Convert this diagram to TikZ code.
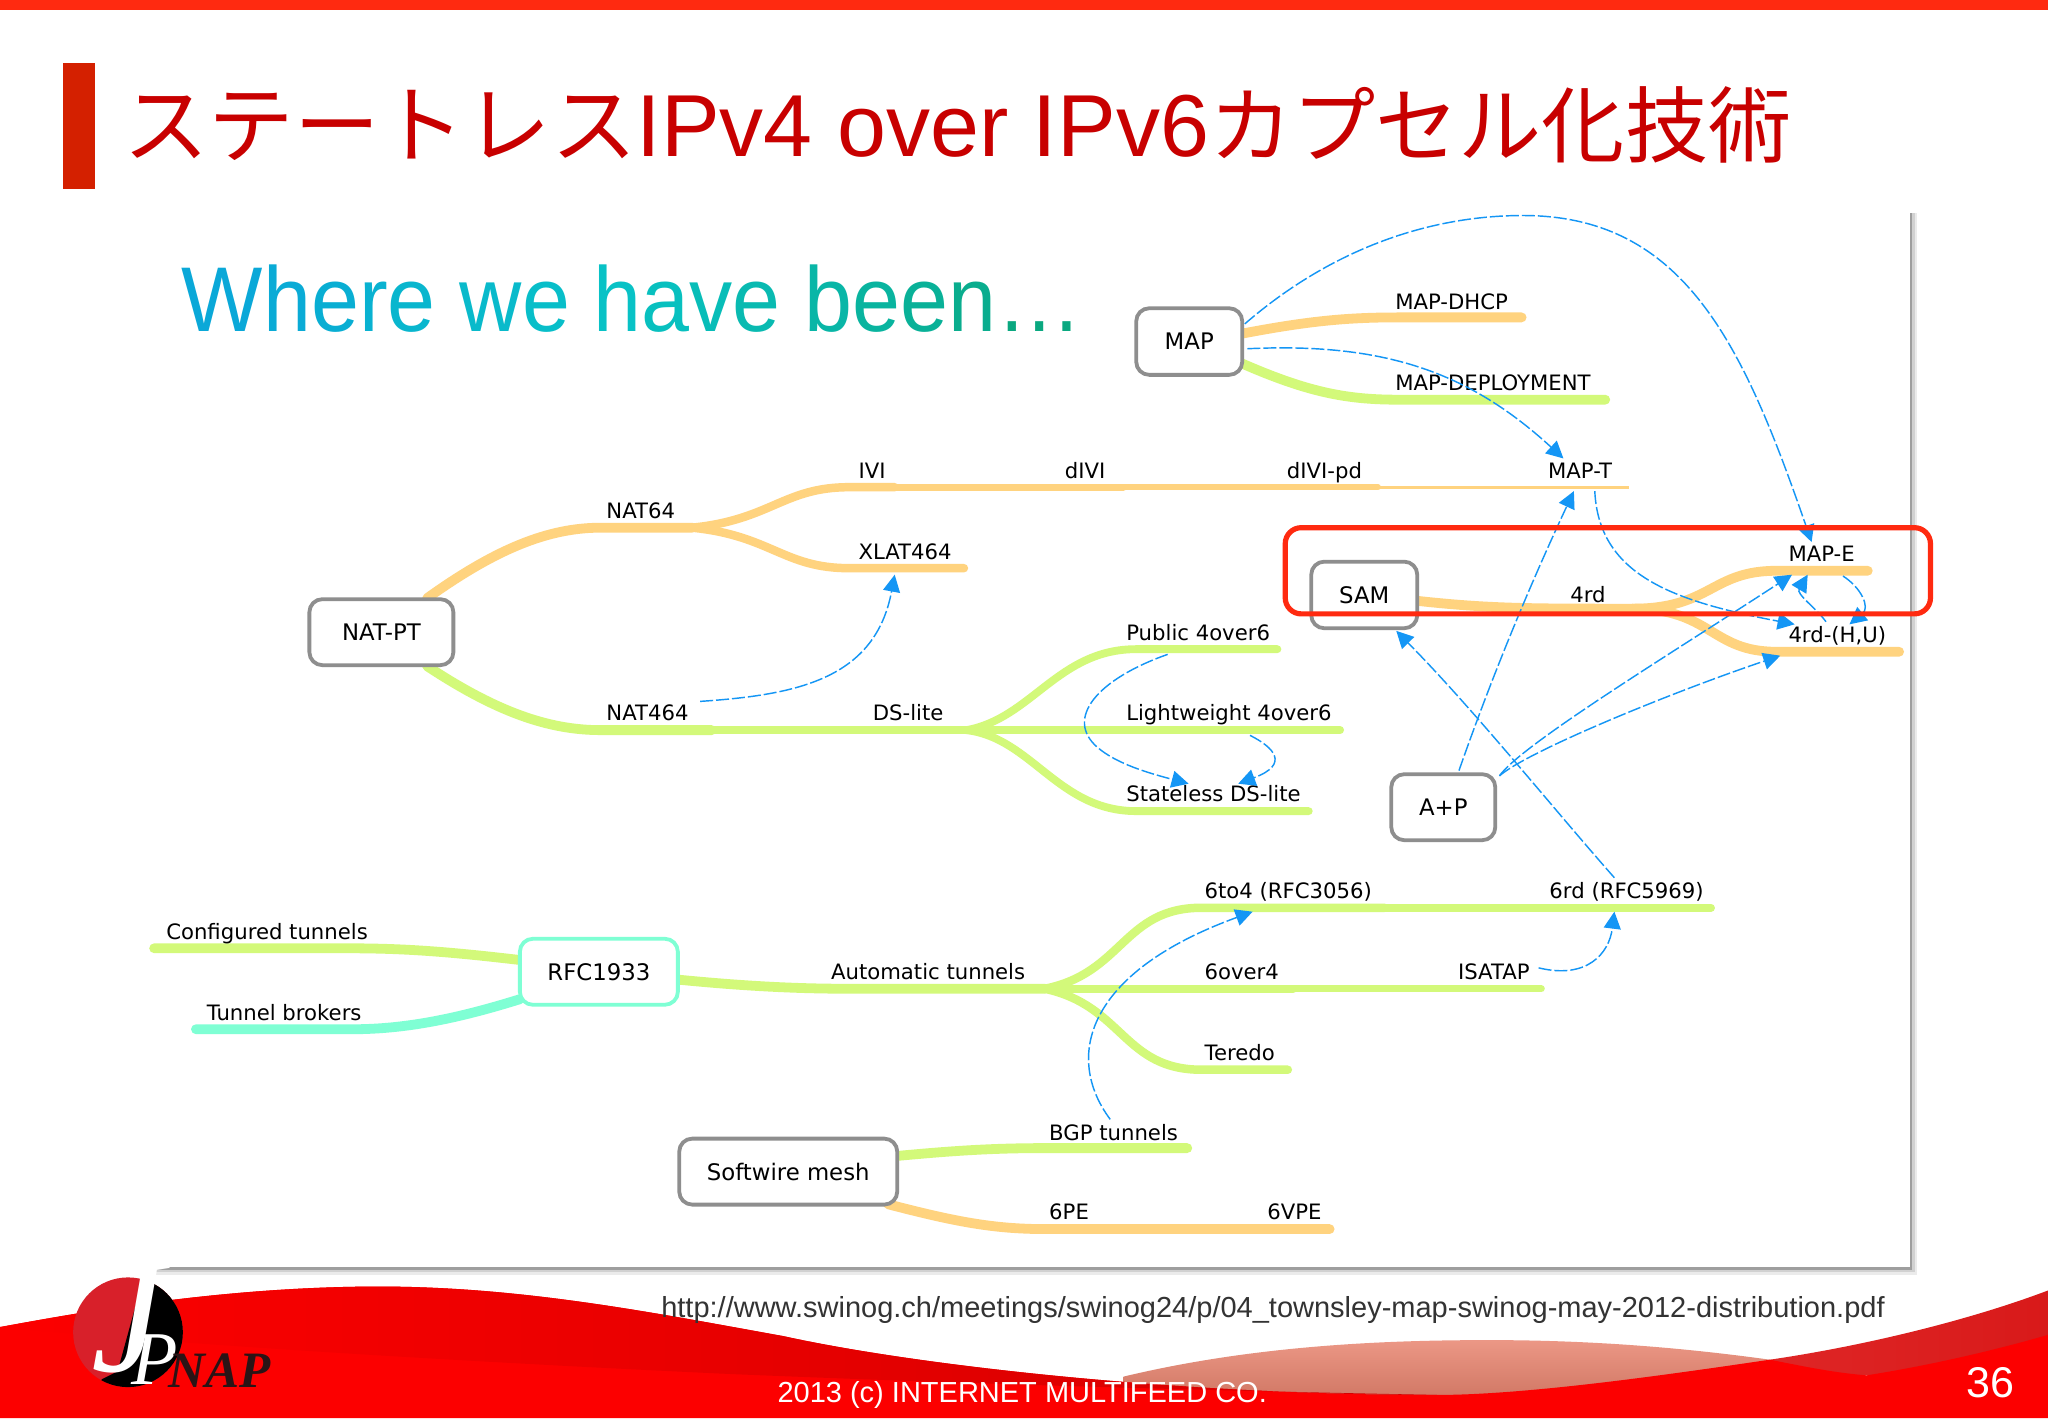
\documentclass[tikz,border=0pt]{standalone}
\usepackage{fontspec}
\usetikzlibrary{arrows.meta}
\setmainfont{Liberation Sans}
\newfontfamily\cjkf{Noto Sans CJK JP}
\newfontfamily\lblf{DejaVu Sans}
\newfontfamily\narrowf[FakeStretch=0.937]{Liberation Sans}
\newfontfamily\logof{Liberation Serif}
\definecolor{topred}{HTML}{FF2A10}
\definecolor{markred}{HTML}{D42000}
\definecolor{titlered}{HTML}{C80000}
\definecolor{orng}{HTML}{FFD37F}
\definecolor{grn}{HTML}{D3F97A}
\definecolor{cyn}{HTML}{7FFFD4}
\definecolor{boxgray}{HTML}{8E8E8E}
\definecolor{arrowblue}{HTML}{1496F5}
\definecolor{footred}{HTML}{FC0000}
\definecolor{footdark}{HTML}{D40000}
\definecolor{salmon}{HTML}{E88570}
\definecolor{gA}{HTML}{0AA8D8}
\definecolor{gB}{HTML}{08C2C6}
\definecolor{gC}{HTML}{0AA880}
\definecolor{logored}{HTML}{D8202A}
\definecolor{logodark}{HTML}{2A1416}
\tikzset{
  x=0.653061pt,y=-0.653061pt,
  box/.style={draw=boxgray,line width=1.9pt,rounded corners=6.5pt,fill=white,inner sep=0pt,font=\lblf\fontsize{11.4}{14}\selectfont},
  lbl/.style={anchor=base west,inner sep=0pt,font=\lblf\fontsize{10.6}{13}\selectfont,text=black},
  br/.style={line width=#1*0.653pt,line cap=round},
  br/.default=7,
  dep/.style={draw=arrowblue,line width=0.72pt,dash pattern=on 6.5pt off 1.5pt,-{Triangle[length=8.5pt,width=8.5pt,fill=arrowblue]}},
  foot/.style={anchor=base west,inner sep=0pt,text=white}
}
\newcommand{\gl}[2]{\textcolor{#1}{#2}}
\begin{document}
\begin{tikzpicture}
\useasboundingbox (0,0) rectangle (1568,1085.7);
\fill[white] (0,0) rectangle (1568,1085.7);
% top and title
\fill[topred] (0,0) rectangle (1568,8);
\fill[markred] (48,48) rectangle (73,145);
\node[anchor=base west,inner sep=0pt,text=titlered] (title) at (94,120) {\fontsize{44}{50}\selectfont{\fontsize{42.8}{50}\selectfont\cjkf ステートレス}IPv4 over IPv6{\fontsize{41.6}{50}\selectfont\cjkf カプセル化技術}};
% panel
\fill[black!8] (110,163) rectangle (1468,976);
\fill[black!18] (110,163) rectangle (1466,974);
\fill[black!38] (110,163) rectangle (1464,972);
\fill[white] (107,160) rectangle (1462,970);
% subtitle
\node[anchor=base west,inner sep=0pt] (where) at (139,254) {\fontsize{46}{50}\selectfont\narrowf
\gl{gA}{W}\gl{gA!90!gB}{h}\gl{gA!75!gB}{e}\gl{gA!60!gB}{r}\gl{gA!45!gB}{e} \gl{gA!30!gB}{w}\gl{gA!15!gB}{e} \gl{gB}{h}\gl{gB!90!gC}{a}\gl{gB!80!gC}{v}\gl{gB!70!gC}{e} \gl{gB!55!gC}{b}\gl{gB!45!gC}{e}\gl{gB!35!gC}{e}\gl{gB!20!gC}{n}\gl{gC}{…}};
% footer
\shade[top color=salmon!85!white,bottom color=salmon!90!black] (860,1054) .. controls (960,1030) and (1060,1026) .. (1140,1026) .. controls (1220,1026) and (1290,1032) .. (1355,1041) -- (1355,1070) -- (860,1070) -- cycle;
\shade[left color=black!15!red!85!white,right color=footdark!90!white] (1355,1041) .. controls (1430,1030) and (1510,1010) .. (1568,988) -- (1568,1040) -- (1355,1060) -- cycle;
\fill[footred] (0,1016) .. controls (60,1005) and (170,985) .. (290,985) .. controls (400,985) and (500,1005) .. (600,1023) .. controls (700,1045) and (900,1068) .. (1100,1068) .. controls (1170,1068) and (1280,1052) .. (1355,1041) .. controls (1385,1047) and (1405,1051) .. (1429,1053) .. controls (1480,1045) and (1530,1033) .. (1568,1022) -- (1568,1085.7) -- (0,1085.7) -- cycle;
\shade[left color=footred,middle color=footred!75!footdark,right color=footdark] (0,1016) .. controls (100,1026) and (300,1040) .. (560,1052) .. controls (800,1062) and (1000,1066) .. (1100,1068) .. controls (900,1068) and (700,1045) .. (600,1023) .. controls (500,1005) and (400,985) .. (290,985) .. controls (170,985) and (60,1005) .. (0,1016) -- cycle;
% logo
\begin{scope}
\clip (98,1020) circle (42);
\fill[logored] (50,970) rectangle (150,1070);
\fill[black] (112,970) -- (150,970) -- (150,1070) -- (70,1070) -- (78,1056) -- (90,1050) -- cycle;
\end{scope}
\node[anchor=base west,inner sep=0pt,text=white] (logoJ) at (70,1050) {\fontsize{82}{82}\selectfont\logof\itshape J};
\node[anchor=base west,inner sep=0pt,text=white] (logoP) at (100,1060) {\fontsize{38}{38}\selectfont\logof\itshape P};
\node[anchor=base west,inner sep=0pt,text=logodark] (logoN) at (129,1062) {\fontsize{25.5}{26}\selectfont\logof\itshape\bfseries NAP};
% footer text
\node[anchor=base west,inner sep=0pt,text=black!80] (url) at (506,1009) {\fontsize{14.5}{16}\selectfont http://www.swinog.ch/meetings/swinog24/p/04\_townsley-map-swinog-may-2012-distribution.pdf};
\node[foot] (copy) at (595,1074) {\fontsize{14.5}{16}\selectfont 2013 (c) INTERNET MULTIFEED CO.};
\node[foot] (pg) at (1505,1070) {\fontsize{21.5}{25}\selectfont 36};
% coordinates of branch points
\coordinate (bMapOut1) at (948,256);
\coordinate (bMapOut2) at (948,277);
\coordinate (eDhcp) at (1165,243);
\coordinate (eDepl) at (1229,306);
\coordinate (nOut1) at (327,458);
\coordinate (nOut2) at (327,510);
\coordinate (j64) at (530,404);
\coordinate (jIvi) at (685,373);
\coordinate (jDivi) at (860,373);
\coordinate (jPd) at (1055,373);
\coordinate (eMapT) at (1247,373);
\coordinate (eXlat) at (738,435);
\coordinate (jDs) at (740,559);
\coordinate (j464) at (545,559);
\coordinate (ePub) at (978,497);
\coordinate (eLw) at (1026,559);
\coordinate (eSt) at (1002,621);
\coordinate (sOut) at (1085,460);
\coordinate (j4rd) at (1250,466);
\coordinate (eMapE) at (1430,437);
\coordinate (eHU) at (1454,499);
\coordinate (rOut1) at (398,735);
\coordinate (rOut2) at (398,765);
\coordinate (rOut3) at (519,750);
\coordinate (eConf) at (118,726);
\coordinate (eTb) at (150,788);
\coordinate (jAuto) at (800,757);
\coordinate (j6to4) at (1060,695);
\coordinate (e6rd) at (1310,695);
\coordinate (j6o4) at (990,757);
\coordinate (eIsa) at (1180,757);
\coordinate (eTer) at (986,819);
\coordinate (swOut1) at (687,885);
\coordinate (swOut2) at (680,922);
\coordinate (eBgp) at (909,879);
\coordinate (e6vpe) at (1018,941);
% branches
\draw[br=7.5,orng] (bMapOut1) .. controls (1000,246) and (1030,243) .. (1070,243) -- (eDhcp);
\draw[br=7.5,grn] (bMapOut2) .. controls (1000,300) and (1030,306) .. (1070,306) -- (eDepl);
\draw[br=7.5,orng] (nOut1) .. controls (380,420) and (420,404) .. (460,404) -- (j64);
\draw[br=6.5,orng] (j64) .. controls (590,398) and (600,373) .. (650,373) -- (jIvi);
\draw[br=5.5,orng] (jIvi) -- (jDivi);
\draw[br=4.5,orng] (jDivi) -- (jPd);
\draw[br=2.4,orng,line cap=butt] (jPd) -- (eMapT);
\draw[br=6.5,orng] (j64) .. controls (590,410) and (600,435) .. (650,435) -- (eXlat);
\draw[br=7.5,grn] (nOut2) .. controls (380,545) and (420,559) .. (460,559) -- (j464);
\draw[br=6.5,grn] (j464) -- (jDs);
\draw[br=6,grn] (jDs) .. controls (790,550) and (810,497) .. (870,497) -- (ePub);
\draw[br=6,grn] (jDs) -- (eLw);
\draw[br=6,grn] (jDs) .. controls (790,565) and (810,621) .. (870,621) -- (eSt);
\draw[br=7.5,orng] (sOut) .. controls (1140,466) and (1170,466) .. (j4rd);
\draw[br=7.5,orng] (j4rd) .. controls (1310,466) and (1310,437) .. (1360,437) -- (eMapE);
\draw[br=7.5,orng] (j4rd) .. controls (1310,466) and (1310,499) .. (1360,499) -- (eHU);
\draw[br=7.5,grn] (rOut1) .. controls (330,727) and (300,726) .. (260,726) -- (eConf);
\draw[br=7.5,cyn] (rOut2) .. controls (350,780) and (310,788) .. (270,788) -- (eTb);
\draw[br=7.5,grn] (rOut3) .. controls (570,755) and (610,757) .. (650,757) -- (jAuto);
\draw[br=6.5,grn] (jAuto) .. controls (860,745) and (860,695) .. (920,695) -- (j6to4);
\draw[br=6,grn] (j6to4) -- (e6rd);
\draw[br=6.5,grn] (jAuto) -- (j6o4);
\draw[br=5.5,grn] (j6o4) -- (eIsa);
\draw[br=6.5,grn] (jAuto) .. controls (860,770) and (860,819) .. (920,819) -- (eTer);
\draw[br=7.5,grn] (swOut1) .. controls (730,881) and (760,879) .. (800,879) -- (eBgp);
\draw[br=7.5,orng] (swOut2) .. controls (730,935) and (760,941) .. (800,941) -- (e6vpe);
% boxes
\node[box,draw=boxgray,minimum width=53pt,minimum height=33.3pt] (MAP) at (910.5,261.5) {MAP};
\node[box,minimum width=72pt,minimum height=33pt] (NATPT) at (292,484) {NAT-PT};
\node[box,minimum width=53pt,minimum height=33.3pt] (SAM) at (1044.5,455.5) {SAM};
\node[box,minimum width=52pt,minimum height=33pt] (AP) at (1105,618) {A+P};
\node[box,draw=cyn,minimum width=79pt,minimum height=33pt] (RFC) at (458.5,744) {RFC1933};
\node[box,minimum width=109pt,minimum height=33pt] (SW) at (603.5,897) {Softwire mesh};
% labels
\node[lbl] (tDhcp) at (1068,237) {MAP-DHCP};
\node[lbl] (tDepl) at (1068,299) {MAP-DEPLOYMENT};
\node[lbl] (tIvi) at (657,366) {IVI};
\node[lbl] (tDivi) at (815,366) {dIVI};
\node[lbl] (tPd) at (985,366) {dIVI-pd};
\node[lbl] (tMapT) at (1185,366) {MAP-T};
\node[lbl] (t64) at (464,397) {NAT64};
\node[lbl] (tXlat) at (657,428) {XLAT464};
\node[lbl] (tMapE) at (1369,430) {MAP-E};
\node[lbl] (t4rd) at (1202,461) {4rd};
\node[lbl] (tHU) at (1369,492) {4rd-(H,U)};
\node[lbl] (tPub) at (862,490) {Public 4over6};
\node[lbl] (t464) at (464,552) {NAT464};
\node[lbl] (tDs) at (668,552) {DS-lite};
\node[lbl] (tLw) at (862,552) {Lightweight 4over6};
\node[lbl] (tSt) at (862,614) {Stateless DS-lite};
\node[lbl] (tConf) at (127,719) {Configured tunnels};
\node[lbl] (tTb) at (158,781) {Tunnel brokers};
\node[lbl] (t6to4) at (922,688) {6to4 (RFC3056)};
\node[lbl] (t6rd) at (1186,688) {6rd (RFC5969)};
\node[lbl] (tAuto) at (636,750) {Automatic tunnels};
\node[lbl] (t6o4) at (922,750) {6over4};
\node[lbl] (tIsa) at (1116,750) {ISATAP};
\node[lbl] (tTer) at (922,812) {Teredo};
\node[lbl] (tBgp) at (803,873) {BGP tunnels};
\node[lbl] (t6pe) at (803,934) {6PE};
\node[lbl] (t6vpe) at (970,934) {6VPE};
% dependency endpoints
\coordinate (a1s) at (953,248);
\coordinate (a1p) at (1166,165);
\coordinate (a1e) at (1387,415);
\coordinate (a2s) at (955,267);
\coordinate (a2e) at (1197,351);
\coordinate (a3s) at (1221,376);
\coordinate (a3e) at (1374,478);
\coordinate (a4s) at (1117,590);
\coordinate (a4e) at (1205,376);
\coordinate (a5s) at (1148,594);
\coordinate (a5e) at (1372,440);
\coordinate (a6e) at (1363,502);
\coordinate (a7s) at (1398,476);
\coordinate (a7e) at (1384,440);
\coordinate (a8s) at (1411,441);
\coordinate (a8e) at (1416,478);
\coordinate (a9s) at (1236,672);
\coordinate (a9e) at (1069,483);
\coordinate (a10s) at (894,501);
\coordinate (a10e) at (910,600);
\coordinate (a11s) at (957,563);
\coordinate (a11e) at (948,600);
\coordinate (a12s) at (536,537);
\coordinate (a12e) at (685,440);
\coordinate (a13s) at (1178,741);
\coordinate (a13e) at (1236,698);
\coordinate (a14s) at (850,857);
\coordinate (a14e) at (959,698);
% dependency arrows
\draw[dep] (a1s) .. controls (1020,190) and (1095,165) .. (a1p) .. controls (1290,165) and (1335,265) .. (a1e);
\draw[dep] (a2s) .. controls (1060,262) and (1125,285) .. (a2e);
\draw[dep] (a3s) .. controls (1224,440) and (1280,460) .. (a3e);
\draw[dep] (a4s) .. controls (1145,510) and (1175,440) .. (a4e);
\draw[dep] (a5s) .. controls (1165,570) and (1280,500) .. (a5e);
\draw[dep] (a5s) .. controls (1170,575) and (1280,530) .. (a6e);
\draw[dep] (a7s) .. controls (1390,465) and (1375,455) .. (a7e);
\draw[dep] (a8s) .. controls (1425,450) and (1432,465) .. (a8e);
\draw[dep] (a9s) .. controls (1190,620) and (1130,545) .. (a9e);
\draw[dep] (a10s) .. controls (840,520) and (815,550) .. (840,572) .. controls (855,585) and (880,592) .. (a10e);
\draw[dep] (a11s) .. controls (975,572) and (988,585) .. (a11e);
\draw[dep] (a12s) .. controls (610,532) and (670,520) .. (a12e);
\draw[dep] (a13s) .. controls (1215,750) and (1232,730) .. (a13e);
\draw[dep] (a14s) .. controls (815,810) and (830,745) .. (a14e);
% highlight
\draw[topred,line width=2.6pt,rounded corners=8pt] (984,404) rectangle (1478,470);
\end{tikzpicture}
\end{document}
